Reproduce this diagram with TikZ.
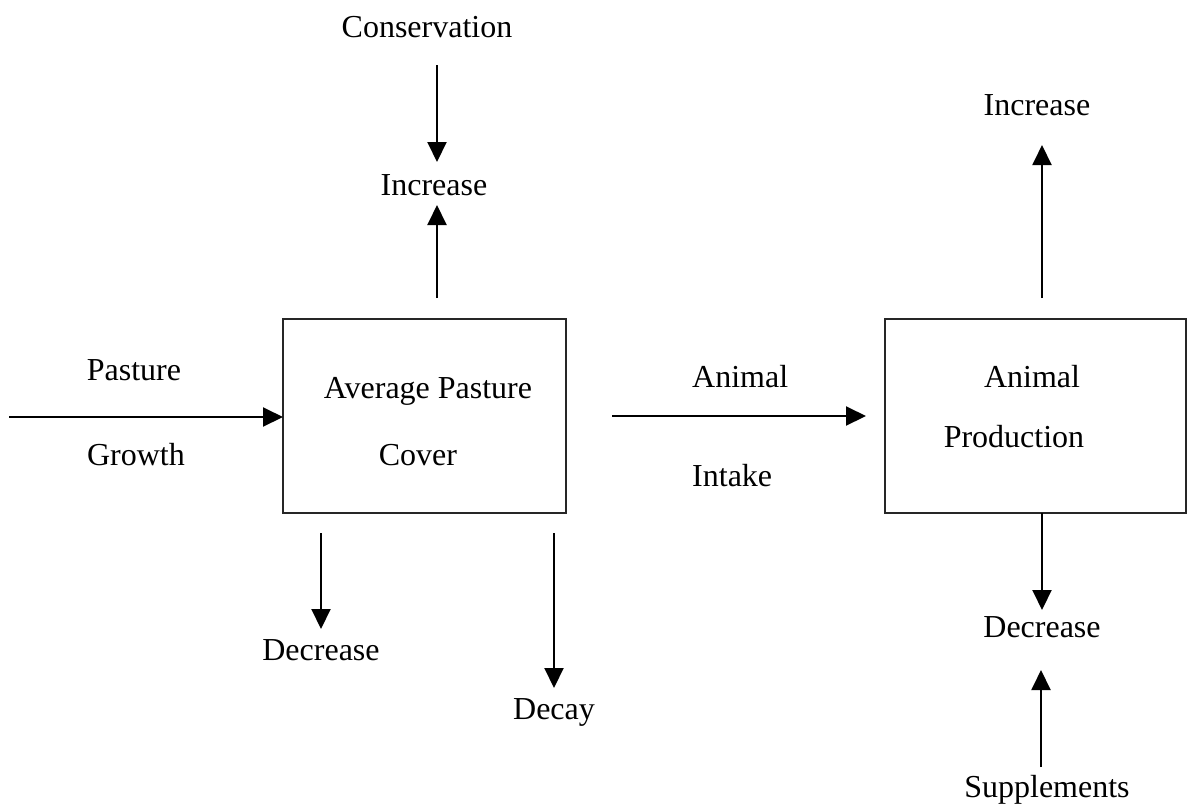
\documentclass[tikz,border=0pt]{standalone}
\usepackage{fontspec}
\setmainfont{Liberation Serif}
\usetikzlibrary{arrows.meta}
\begin{document}
\begin{tikzpicture}[x=1pt,y=-1pt,
  lbl/.style={inner sep=0pt,anchor=base,font=\fontsize{32}{38}\selectfont},
  boxnode/.style={draw=black!85,line width=2pt,inner sep=0pt},
  flow/.style={line width=2pt,-{Triangle[length=20pt,width=19pt]}}]
\useasboundingbox (0,0) rectangle (1191,807);
% boxes
\node[boxnode,minimum width=283pt,minimum height=194pt] (apc) at (424.5,416) {};
\node[boxnode,minimum width=301pt,minimum height=194pt] (ap) at (1035.5,416) {};
% labels
\node[lbl] (cons) at (427,37) {Conservation};
\node[lbl] (inc1) at (434,195) {Increase};
\node[lbl] (past) at (134,380) {Pasture};
\node[lbl] (grow) at (136,465) {Growth};
\node[lbl] (avg) at (428,398) {Average Pasture};
\node[lbl] (cov) at (418,465) {Cover};
\node[lbl,anchor=base west] (anim) at (692,387) {Animal};
\node[lbl,anchor=base west] (intk) at (692,486) {Intake};
\node[lbl] (anim2) at (1032,387) {Animal};
\node[lbl] (prod) at (1014,447) {Production};
\node[lbl] (inc2) at (1037,115) {Increase};
\node[lbl] (dec2) at (1042,637) {Decrease};
\node[lbl] (supp) at (1047,797) {Supplements};
\node[lbl] (dec1) at (321,660) {Decrease};
\node[lbl] (decay) at (554,719) {Decay};
% arrow end points
\coordinate (c1s) at (437,65);   \coordinate (c1e) at (437,162);
\coordinate (c2s) at (437,298);  \coordinate (c2e) at (437,205);
\coordinate (c3s) at (9,417);    \coordinate (c3e) at (283,417);
\coordinate (c4s) at (612,416);  \coordinate (c4e) at (866,416);
\coordinate (c5s) at (1042,298); \coordinate (c5e) at (1042,145);
\coordinate (c6s) at (1042,513); \coordinate (c6e) at (1042,610);
\coordinate (c7s) at (1041,767); \coordinate (c7e) at (1041,670);
\coordinate (c8s) at (321,533);  \coordinate (c8e) at (321,629);
\coordinate (c9s) at (554,533);  \coordinate (c9e) at (554,688);
% connectors
\draw[flow] (c1s) -- (c1e);
\draw[flow] (c2s) -- (c2e);
\draw[flow] (c3s) -- (c3e);
\draw[flow] (c4s) -- (c4e);
\draw[flow] (c5s) -- (c5e);
\draw[flow] (c6s) -- (c6e);
\draw[flow] (c7s) -- (c7e);
\draw[flow] (c8s) -- (c8e);
\draw[flow] (c9s) -- (c9e);
\end{tikzpicture}
\end{document}
